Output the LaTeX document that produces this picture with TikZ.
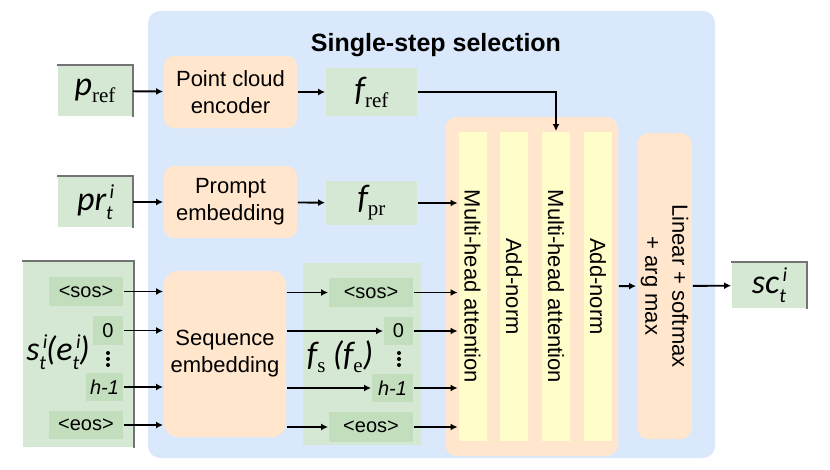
\documentclass[tikz,border=0pt]{standalone}
\usepackage{fontspec}
\setmainfont{Liberation Sans}
\newfontfamily\calfont{Carlito}
\newfontfamily\serfont{Liberation Serif}
\usetikzlibrary{calc}
\usetikzlibrary{arrows.meta}

\definecolor{bgblue}{HTML}{DAE8FC}
\definecolor{boxgreen}{HTML}{D5E8D4}
\definecolor{tokgreen}{HTML}{C2DEBD}
\definecolor{boxorange}{HTML}{FFE6CC}
\definecolor{stripyellow}{HTML}{FFFDC9}

\newcommand{\vsym}[1]{{\calfont\itshape\fontsize{34}{34}\selectfont #1}}
\newcommand{\vsub}[1]{\raisebox{-7pt}{\serfont\fontsize{21}{21}\selectfont #1}}
\newcommand{\vidx}[2]{\makebox[0pt][l]{\raisebox{12pt}{\calfont\itshape\fontsize{20}{20}\selectfont\,#1}}\raisebox{-9pt}{\calfont\itshape\fontsize{20}{20}\selectfont #2}}

\begin{document}
\begin{tikzpicture}[x = 1pt, y = -1pt, line width = 1.9pt,
    >={Latex[length=7pt, width=7pt]},
    font = \fontsize{22}{27}\selectfont,
    inbox/.style = {rectangle, fill = boxgreen, inner sep = 0pt},
    tokbox/.style = {rectangle, fill = tokgreen, inner sep = 0pt, font = \fontsize{20}{24}\selectfont},
    procbox/.style = {rectangle, rounded corners = 10pt, fill = boxorange, inner sep = 0pt, align = center},
    strip/.style = {rectangle, fill = stripyellow, inner sep = 0pt, minimum width = 28, minimum height = 309},
    shadowline/.style = {line width = 1.5pt, draw = black!55},
    dotmark/.style = {circle, fill = black, inner sep = 0pt, minimum size = 4}]
    \useasboundingbox (0, 0) rectangle (830, 469);

    % background
    \fill[bgblue, rounded corners = 12pt] (148, 11) rectangle (715, 458);
    \node (title) at (436, 45) {\fontsize{25}{30}\selectfont\bfseries Single-step selection};

    % inputs
    \node (pref) at (95, 91) [inbox, minimum width = 74, minimum height = 50]{\vsym{p}\vsub{ref}};
    \node (prti) at (95, 202) [inbox, minimum width = 74, minimum height = 50]{\vsym{pr}\vidx{i}{t}};
    \node (sbox) at (78, 354.5) [inbox, minimum width = 110, minimum height = 185]{};
    \node (sos1) at (86, 291.5) [tokbox, minimum width = 74, minimum height = 29]{<sos>};
    \node (zero1) at (108, 330.5) [tokbox, minimum width = 30, minimum height = 29]{0};
    \node (h1) at (104.5, 387) [tokbox, minimum width = 37, minimum height = 28]{\itshape h-1};
    \node (eos1) at (86, 425) [tokbox, minimum width = 74, minimum height = 28]{<eos>};
    \node (slabel) at (58, 352) {\vsym{s}\vidx{i}{t}\vsym{(e}\vidx{i}{t}\vsym{)}};
    \foreach \y in {353, 359, 365}
        \node (d1\y) at (108, \y) [dotmark]{};

    % encoders
    \node (pce) at (230.5, 92) [procbox, minimum width = 133, minimum height = 72]{Point cloud\\encoder};
    \node (pemb) at (230.5, 202) [procbox, minimum width = 133, minimum height = 72]{Prompt\\embedding};
    \node (semb) at (225, 354) [procbox, rounded corners = 14pt, minimum width = 122, minimum height = 166]{Sequence\\embedding};

    % features
    \node (fref) at (371.5, 92) [inbox, minimum width = 91, minimum height = 48]{\vsym{f}\vsub{ref}};
    \node (fpr) at (371.5, 203) [inbox, minimum width = 91, minimum height = 44]{\vsym{f}\vsub{pr}};
    \node (fbox) at (362, 354) [inbox, minimum width = 118, minimum height = 182]{};
    \node (sos2) at (371, 292.5) [tokbox, minimum width = 84, minimum height = 29]{<sos>};
    \node (zero2) at (398.5, 331) [tokbox, minimum width = 29, minimum height = 28]{0};
    \node (h2) at (392.5, 388) [tokbox, minimum width = 41, minimum height = 28]{\itshape h-1};
    \node (eos2) at (371, 427) [tokbox, minimum width = 84, minimum height = 30]{<eos>};
    \node (flabel) at (340, 357) {\vsym{f}\vsub{s}\,\,\vsym{(f}\vsub{e}\vsym{)}};
    \foreach \y in {353, 359, 365}
        \node (d2\y) at (399, \y) [dotmark]{};

    % decoder
    \node (attn) at (531.5, 286.5) [procbox, rounded corners = 12pt, minimum width = 173, minimum height = 339]{};
    \node (mha1) at (472.5, 286.5) [strip]{};
    \node (an1) at (514, 286.5) [strip]{};
    \node (mha2) at (556, 286.5) [strip]{};
    \node (an2) at (598, 286.5) [strip]{};
    \node at (mha1) [rotate = -90]{Multi-head attention};
    \node at (an1) [rotate = -90]{Add-norm};
    \node at (mha2) [rotate = -90]{Multi-head attention};
    \node at (an2) [rotate = -90]{Add-norm};
    \node (lin) at (664.5, 286) [procbox, rounded corners = 12pt, minimum width = 55, minimum height = 306]{};
    \node at (lin) [rotate = -90, align = center]{Linear + softmax\\+ arg max};

    % output
    \node (sc) at (769, 285.5) [inbox, minimum width = 74, minimum height = 45]{\vsym{sc}\vidx{i}{t}};

    \foreach \b in {pref, prti, sbox, sc}
        \draw[shadowline] (\b.north west) -- (\b.north east) -- (\b.south east);

    \draw[->] (pref) -- (pce);
    \draw[->] (pce) -- (fref);
    \draw[->] (fref.east) -| (mha2.north);
    \draw[->] (prti) -- (pemb);
    \draw[->] (pemb) -- (fpr);
    \draw[->] (fpr.east) -- (fpr.east -| mha1.west);
    \foreach \t in {sos, zero, h, eos} {
        \draw[->] (\t1.east) -- (\t1.east -| semb.west);
        \draw[->] (\t2.west -| semb.east) -- (\t2.west);
        \draw[->] (\t2.east) -- (\t2.east -| mha1.west);
    }
    \draw[->] (attn) -- (lin);
    \draw[->] (lin) -- (sc);
\end{tikzpicture}
\end{document}
